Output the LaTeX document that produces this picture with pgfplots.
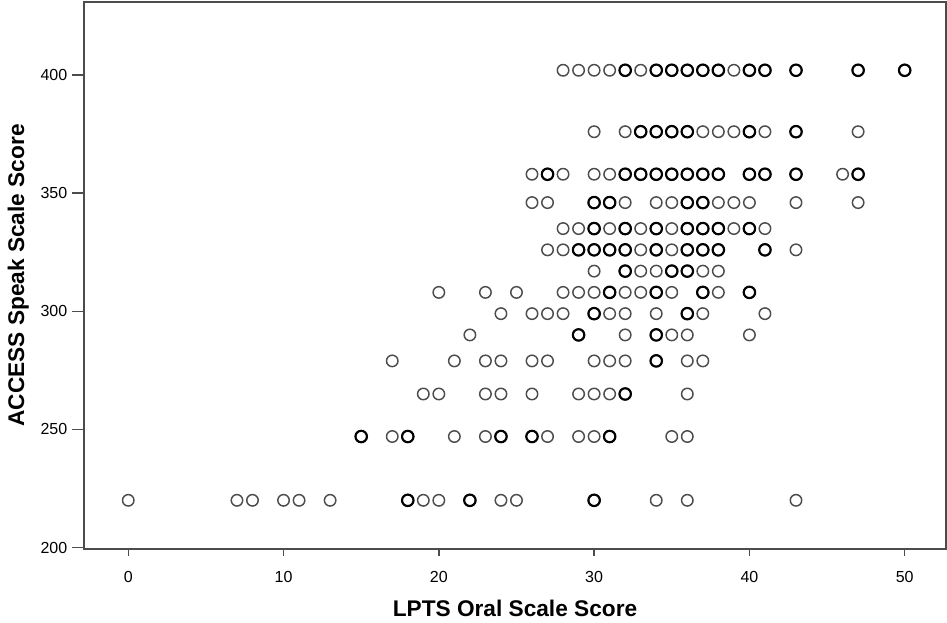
\documentclass[border=0pt]{standalone}
\usepackage{pgfplots}
\pgfplotsset{compat=1.18}
\usepackage{fontspec}
\setmainfont{Liberation Sans}
\begin{document}
\begin{tikzpicture}
\begin{axis}[
  name=ax,
  scale only axis, width=646.5pt, height=410.25pt,
  xmin=-2.85, xmax=52.66, ymin=199.4, ymax=430.9,
  xtick={0,10,20,30,40,50}, ytick={200,250,300,350,400},
  tick align=outside, tick pos=left,
  axis line style={black!70, line width=1pt},
  major tick style={black!70, line width=1pt},
  major tick length=9pt,
  xtick style={/pgfplots/major tick length=5pt},
  /pgf/number format/assume math mode=true,
  ticklabel style={font=\fontsize{12}{14}\selectfont},
  xticklabel style={yshift=-4pt},
  xlabel={LPTS Oral Scale Score},
  ylabel={ACCESS Speak Scale Score},
  label style={font=\bfseries\fontsize{17}{20}\selectfont},
  xlabel style={at={(axis description cs:0.5,-0.1243)}, anchor=base},
  ylabel style={at={(axis description cs:-0.0696,0.5)}, anchor=base},
  clip=false,
]
\addplot[only marks, mark=o, mark size=4.3pt, mark options={black!70, line width=1.1pt}] coordinates {
(28,402)(29,402)(30,402)(31,402)(32,402)(33,402)(34,402)(35,402)(36,402)(37,402)(38,402)(39,402)(40,402)(41,402)(43,402)(47,402)(50,402)
(30,376)(32,376)(33,376)(34,376)(35,376)(36,376)(37,376)(38,376)(39,376)(40,376)(41,376)(43,376)(47,376)
(26,358)(27,358)(28,358)(30,358)(31,358)(32,358)(33,358)(34,358)(35,358)(36,358)(37,358)(38,358)(40,358)(41,358)(43,358)(46,358)(47,358)
(26,346)(27,346)(30,346)(31,346)(32,346)(34,346)(35,346)(36,346)(37,346)(38,346)(39,346)(40,346)(43,346)(47,346)
(28,335)(29,335)(30,335)(31,335)(32,335)(33,335)(34,335)(35,335)(36,335)(37,335)(38,335)(39,335)(40,335)(41,335)
(27,326)(28,326)(29,326)(30,326)(31,326)(32,326)(33,326)(34,326)(35,326)(36,326)(37,326)(38,326)(41,326)(43,326)
(30,317)(32,317)(33,317)(34,317)(35,317)(36,317)(37,317)(38,317)
(20,308)(23,308)(25,308)(28,308)(29,308)(30,308)(31,308)(32,308)(33,308)(34,308)(35,308)(37,308)(38,308)(40,308)
(24,299)(26,299)(27,299)(28,299)(30,299)(31,299)(32,299)(34,299)(36,299)(37,299)(41,299)
(22,290)(29,290)(32,290)(34,290)(35,290)(36,290)(40,290)
(17,279)(21,279)(23,279)(24,279)(26,279)(27,279)(30,279)(31,279)(32,279)(34,279)(36,279)(37,279)
(19,265)(20,265)(23,265)(24,265)(26,265)(29,265)(30,265)(31,265)(32,265)(36,265)
(15,247)(17,247)(18,247)(21,247)(23,247)(24,247)(26,247)(27,247)(29,247)(30,247)(31,247)(35,247)(36,247)
(0,220)(7,220)(8,220)(10,220)(11,220)(13,220)(18,220)(19,220)(20,220)(22,220)(24,220)(25,220)(30,220)(34,220)(36,220)(43,220)
};
\addplot[only marks, mark=o, mark size=4.3pt, mark options={black, line width=1.6pt}] coordinates {
(32,402)(34,402)(35,402)(36,402)(37,402)(38,402)(40,402)(41,402)(43,402)(47,402)(50,402)
(33,376)(34,376)(35,376)(36,376)(40,376)(43,376)
(27,358)(32,358)(33,358)(34,358)(35,358)(36,358)(37,358)(38,358)(40,358)(41,358)(43,358)(47,358)
(30,346)(31,346)(36,346)(37,346)
(30,335)(32,335)(34,335)(36,335)(37,335)(38,335)(40,335)
(29,326)(30,326)(31,326)(32,326)(34,326)(36,326)(37,326)(38,326)(41,326)
(32,317)(35,317)(36,317)
(31,308)(34,308)(37,308)(40,308)
(30,299)(36,299)
(29,290)(34,290)
(34,279)
(32,265)
(15,247)(18,247)(24,247)(26,247)(31,247)
(18,220)(22,220)(30,220)
};
\end{axis}
\pgfresetboundingbox
\path ([xshift=-63pt,yshift=-55.5pt]ax.south west) rectangle ([xshift=0.75pt,yshift=1.5pt]ax.north east);
\end{tikzpicture}
\end{document}
